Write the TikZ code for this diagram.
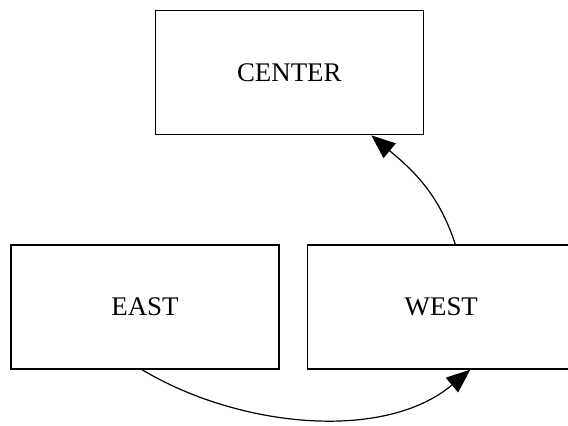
\documentclass[tikz,border=0pt]{standalone}
\usepackage{fontspec}
\setmainfont{Liberation Serif}
\usetikzlibrary{positioning,arrows.meta}

\begin{document}
\begin{tikzpicture}[
            x=1bp, y=1bp,
            every node/.style={draw, rectangle, line width=1.3bp, minimum width=268bp, minimum height=124bp, font=\fontsize{27}{32}\selectfont},
            link/.style={draw, line width=1.2bp, -{Triangle[length=24bp,width=19bp]}}
            ]
        \useasboundingbox (0,0) rectangle (568,425);
        \node (center) at (289.3,352.3) {CENTER};
        \node (east) at (145,118) {EAST};
        \node[right=27bp of east] (west) {WEST};
        \draw[link] ([xshift=14bp]west.north) to[out=108, in=-40] ([xshift=82bp]center.south);
        \draw[link] ([xshift=-3bp]east.south) to[out=-31, in=220, looseness=0.88] ([xshift=29bp]west.south);
        \end{tikzpicture}
\end{document}
